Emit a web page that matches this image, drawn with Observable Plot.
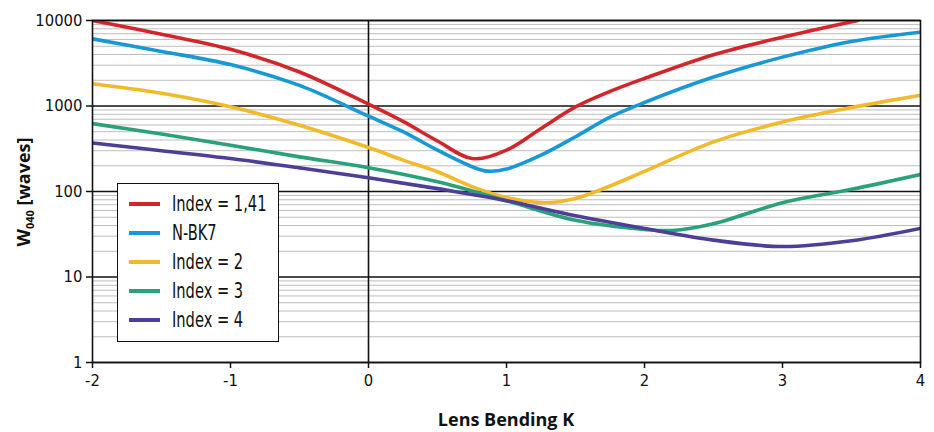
<!DOCTYPE html>
<html>
<head>
<meta charset="utf-8">
<script src="https://cdn.jsdelivr.net/npm/d3@7"></script>
<script src="https://cdn.jsdelivr.net/npm/@observablehq/plot@0.6"></script>
<style>
  html, body { margin: 0; padding: 0; background: #fff; }
  #wrap { position: relative; width: 934px; height: 432px; }
  #legend {
    position: absolute; left: 117px; top: 183px; width: 162px; height: 159px;
    box-sizing: border-box; border: 1.6px solid #111; background: #fff;
    font-family: "DejaVu Sans Condensed", sans-serif;
    font-size: 22px; color: #111; padding-top: 5px; overflow: hidden;
  }
  #legend .row { display: flex; align-items: center; height: 29px; white-space: nowrap; }
  #legend .sw { width: 31px; height: 4px; margin-left: 11px; margin-right: 12px; flex: none; }
  #legend .lab { display: inline-block; transform: scaleX(0.74); transform-origin: left center; }
</style>
</head>
<body>
<div id="wrap"><div id="legend"></div></div>
<script>
// ---- data ----
const seriesNames = ["Index = 1,41", "N-BK7", "Index = 2", "Index = 3", "Index = 4"];
const seriesColors = ["#d3262b", "#1898d5", "#f1b92c", "#2aa178", "#4d3e98"];

const kIdx141 = [-2, -1.5, -1, -0.5, 0, 0.25, 0.5, 0.75, 1, 1.25, 1.5, 1.75, 2, 2.5, 3, 3.545];
const wIdx141 = [10000, 6900, 4600, 2500, 1050, 660, 390, 243, 304, 545, 975, 1480, 2100, 3980, 6380, 10000];

const kNBK7 = [-2, -1.5, -1, -0.5, 0, 0.25, 0.5, 0.75, 0.86, 1, 1.25, 1.5, 1.75, 2, 2.5, 3, 3.5, 4];
const wNBK7 = [6100, 4350, 3050, 1740, 760, 500, 304, 195, 173, 183, 266, 437, 740, 1100, 2180, 3730, 5690, 7310];

const kIdx2 = [-2, -1.5, -1, -0.5, 0, 0.25, 0.5, 0.75, 1, 1.28, 1.5, 1.75, 2, 2.5, 3, 3.5, 4];
const wIdx2 = [1820, 1410, 980, 596, 327, 233, 170, 114, 85, 74, 83, 116, 172, 380, 650, 960, 1335];

const kIdx3 = [-2, -1.5, -1, -0.5, 0, 0.5, 1, 1.5, 2, 2.2, 2.5, 3, 3.5, 4];
const wIdx3 = [622, 470, 347, 254, 190, 130, 78, 46, 36, 35, 42, 74, 106, 158];

const kIdx4 = [-2, -1.5, -1, -0.5, 0, 0.5, 1, 1.5, 2, 2.5, 3, 3.5, 4];
const wIdx4 = [370, 300, 243, 189, 145, 108, 78, 52, 37, 27, 22.7, 26.5, 37];

const xTicks = [-2, -1, 0, 1, 2, 3, 4];
const yTicks = [1, 10, 100, 1000, 10000];
const yTickLabels = ["1", "10", "100", "1000", "10000"];

// ---- build table ----
const seriesK = [kIdx141, kNBK7, kIdx2, kIdx3, kIdx4];
const seriesW = [wIdx141, wNBK7, wIdx2, wIdx3, wIdx4];
const rows = [];
seriesNames.forEach((name, i) => {
  seriesK[i].forEach((k, j) => rows.push({series: name, k, w: seriesW[i][j]}));
});
const minorTicks = [];
for (let d = 1; d < 10000; d *= 10) for (let m = 2; m <= 9; m++) minorTicks.push(d * m);

const chart = Plot.plot({
  width: 934,
  height: 432,
  marginLeft: 92,
  marginRight: 14,
  marginTop: 20,
  marginBottom: 70,
  style: {fontFamily: "'DejaVu Sans Condensed', sans-serif", fontSize: "16.5px", color: "#111", background: "#fff"},
  x: {domain: [-2, 4]},
  y: {type: "log", domain: [1, 10000]},
  color: {domain: seriesNames, range: seriesColors},
  marks: [
    Plot.ruleY(minorTicks, {stroke: "#bdbdbd", strokeWidth: 1}),
    Plot.ruleY(yTicks, {stroke: "#111", strokeWidth: 1.6}),
    Plot.ruleX([0], {stroke: "#111", strokeWidth: 1.6}),
    Plot.line(rows, {x: "k", y: "w", z: "series", stroke: "series", strokeWidth: 3.6, curve: "catmull-rom", clip: "frame"}),
    Plot.frame({stroke: "#111", strokeWidth: 1.6}),
    Plot.axisY(yTicks, {tickSize: 6, tickPadding: 4, tickFormat: d => yTickLabels[yTicks.indexOf(d)], label: null, strokeWidth: 1.5}),
    Plot.axisX(xTicks, {tickSize: 6, tickPadding: 6, tickFormat: d => String(d), label: null, strokeWidth: 1.5})
  ]
});

document.getElementById("wrap").prepend(chart);

// axis titles
const svg = d3.select(chart);
svg.append("text")
  .attr("x", 506).attr("y", 426)
  .attr("text-anchor", "middle")
  .attr("font-family", "'Open Sans', sans-serif")
  .attr("font-weight", "bold")
  .attr("font-size", 18)
  .attr("fill", "#111")
  .text("Lens Bending K");

const yt = svg.append("text")
  .attr("transform", "translate(30,192) rotate(-90)")
  .attr("text-anchor", "middle")
  .attr("font-family", "'Open Sans', sans-serif")
  .attr("font-weight", "bold")
  .attr("font-size", 18)
  .attr("fill", "#111");
yt.append("tspan").text("W");
yt.append("tspan").attr("font-size", 11).attr("dy", 4).text("040");
yt.append("tspan").attr("dy", -4).text(" [waves]");

// legend
const leg = d3.select("#legend");
seriesNames.forEach((name, i) => {
  const r = leg.append("div").attr("class", "row");
  r.append("div").attr("class", "sw").style("background", seriesColors[i]);
  r.append("span").attr("class", "lab").text(name);
});
</script>
</body>
</html>
